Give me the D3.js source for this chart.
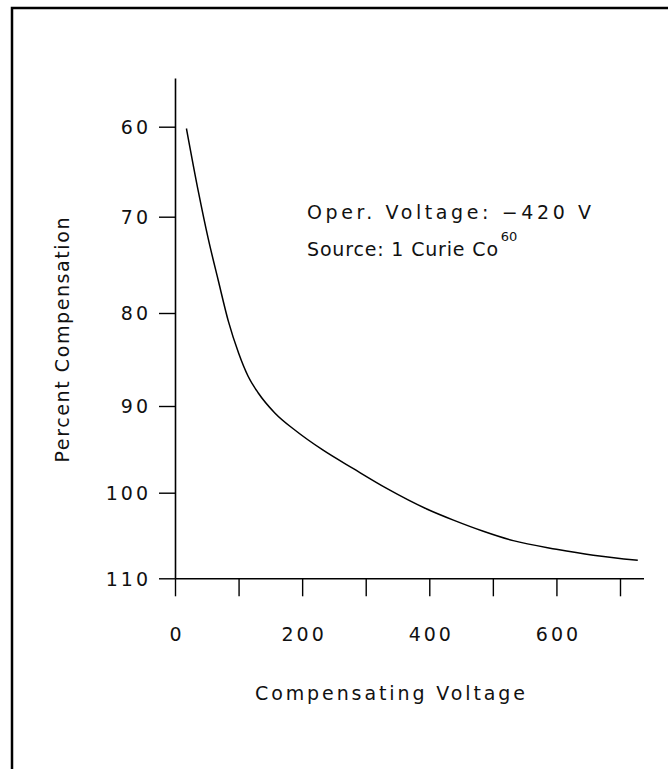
<!DOCTYPE html>
<html>
<head>
<meta charset="utf-8">
<script src="https://cdn.jsdelivr.net/npm/d3@7"></script>
<style>
  html, body { margin: 0; padding: 0; background: #fff; }
  svg { display: block; }
  text { font-family: "DejaVu Sans", sans-serif; fill: #111; }
</style>
</head>
<body>
<svg id="chart" width="668" height="769"></svg>
<script>
// ---- data ----
const voltage = [18, 37, 52, 68, 84, 100, 115, 131, 157, 189, 233, 280, 333, 396, 438, 485, 532, 600, 658, 728];
const compensation = [60.2, 67.3, 72.2, 76.6, 80.9, 84.3, 86.8, 88.6, 90.8, 92.8, 95.1, 97.2, 99.5, 101.9, 103.2, 104.5, 105.6, 106.6, 107.3, 107.9];
const xTicks = [0, 100, 200, 300, 400, 500, 600, 700];
const xTickLabels = ["0", "", "200", "", "400", "", "600", ""];
const yTicks = [60, 70, 80, 90, 100, 110];
const annotation = ["Oper. Voltage: \u2212420 V", "Source: 1 Curie Co"];
const superscript = "60";
const xTitle = "Compensating Voltage";
const yTitle = "Percent Compensation";

const svg = d3.select("#chart");

// frame
svg.append("path")
  .attr("d", "M12,769 L12,8 L668,8")
  .attr("fill", "none").attr("stroke", "#000").attr("stroke-width", 2.5);

// scales (y is reversed: 60 at top, 110 at bottom; spacing follows the drawn ticks)
const x = d3.scaleLinear().domain([0, 700, 737]).range([175, 620, 643.5]);
const y = d3.scaleLinear()
  .domain([54.6, 60, 70, 80, 90, 100, 110])
  .range([78, 126.7, 216.7, 313, 406, 492.7, 578.3]);

// y axis
const yAxis = svg.append("g")
  .attr("transform", "translate(175,0)")
  .call(d3.axisLeft(y).tickValues(yTicks).tickSize(16).tickSizeOuter(0).tickPadding(11).tickFormat(d3.format("d")));

// x axis
const xAxis = svg.append("g")
  .attr("transform", "translate(0,578.3)")
  .call(d3.axisBottom(x).tickValues(xTicks).tickSize(18).tickSizeOuter(0).tickPadding(38)
    .tickFormat((d, i) => xTickLabels[i]));

[yAxis, xAxis].forEach(g => {
  g.select(".domain").attr("stroke", "#000").attr("stroke-width", 1.6);
  g.selectAll(".tick line").attr("stroke", "#000").attr("stroke-width", 1.4);
  g.selectAll(".tick text")
    .style("font-family", "DejaVu Sans, sans-serif")
    .style("font-size", "19px")
    .style("letter-spacing", "3px")
    .attr("fill", "#222");
});
yAxis.selectAll(".tick text").attr("dy", "0.36em").attr("dx", "3px");
xAxis.selectAll(".tick text").attr("dy", "0.36em").attr("dx", "1.5px");

// curve
const pts = voltage.map((v, i) => [v, compensation[i]]);
svg.append("path")
  .datum(pts)
  .attr("fill", "none")
  .attr("stroke", "#000")
  .attr("stroke-width", 1.5)
  .attr("d", d3.line().x(d => x(d[0])).y(d => y(d[1])).curve(d3.curveMonotoneX));

// annotation
svg.append("text")
  .attr("x", 307).attr("y", 219)
  .style("font-size", "19px")
  .attr("textLength", 284).attr("lengthAdjust", "spacing")
  .text(annotation[0]);
const t2 = svg.append("text")
  .attr("x", 307).attr("y", 256)
  .style("font-size", "19px");
t2.append("tspan").attr("textLength", 191).attr("lengthAdjust", "spacing").text(annotation[1]);
t2.append("tspan").attr("dy", -15).attr("dx", 2).style("font-size", "13px").text(superscript);

// axis titles
svg.append("text")
  .attr("x", 390).attr("y", 700)
  .attr("text-anchor", "middle")
  .style("font-size", "19px")
  .attr("textLength", 270).attr("lengthAdjust", "spacing")
  .text(xTitle);

svg.append("text")
  .attr("transform", "translate(69,340) rotate(-90)")
  .attr("text-anchor", "middle")
  .style("font-size", "19px")
  .attr("textLength", 245).attr("lengthAdjust", "spacing")
  .text(yTitle);
</script>
</body>
</html>
